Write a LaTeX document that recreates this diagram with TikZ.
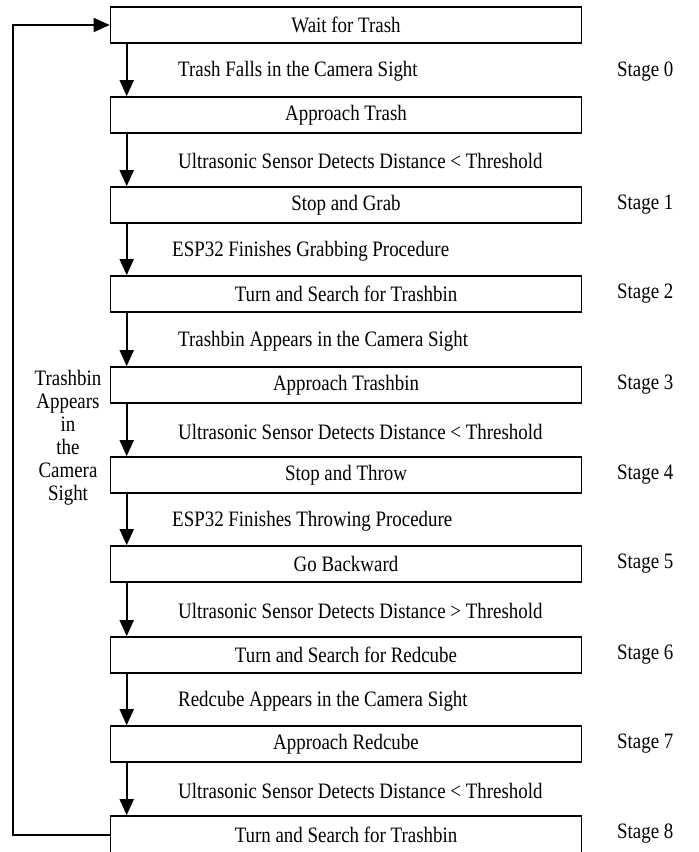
\documentclass[tikz,border=0pt]{standalone}
\usepackage{fontspec}
\setmainfont{Liberation Serif}[FakeStretch=0.86]
\usepackage{tikz}
\usetikzlibrary{arrows.meta}
\tikzset{stagebox/.style={draw, line width=1.6pt, minimum width=471pt, minimum height=36pt, inner sep=0pt},
    flow/.style={line width=1.6pt, -{Triangle[width=14pt,length=16pt]}},
    cond/.style={anchor=west, inner sep=0pt},
    stagelbl/.style={anchor=west, inner sep=0pt}}

\begin{document}
\begin{tikzpicture}[x=1pt, y=-1pt, font=\fontsize{22}{23}\selectfont]
    \clip (0,0) rectangle (699,852);
    \fill[white] (0,0) rectangle (699,852);

    \node[stagebox] (wait) at (346, 25) {Wait for Trash};
    \node[stagebox] (appTrash) at (346, 115) {Approach Trash};
    \node[stagebox] (grab) at (346, 205) {Stop and Grab};
    \node[stagebox] (turnBin) at (346, 294) {Turn and Search for Trashbin};
    \node[stagebox] (appBin) at (346, 385) {Approach Trashbin};
    \node[stagebox] (throw) at (346, 475) {Stop and Throw};
    \node[stagebox] (goBack) at (346, 564) {Go Backward};
    \node[stagebox] (turnCube) at (346, 655) {Turn and Search for Redcube};
    \node[stagebox] (appCube) at (346, 744) {Approach Redcube};
    \node[stagebox, minimum height=38pt] (turnBinB) at (346, 835) {Turn and Search for Trashbin};

    \draw[flow] ([xshift=17pt]wait.south west) -- ([xshift=17pt]appTrash.north west);
    \draw[flow] ([xshift=17pt]appTrash.south west) -- ([xshift=17pt]grab.north west);
    \draw[flow] ([xshift=17pt]grab.south west) -- ([xshift=17pt]turnBin.north west);
    \draw[flow] ([xshift=17pt]turnBin.south west) -- ([xshift=17pt]appBin.north west);
    \draw[flow] ([xshift=17pt]appBin.south west) -- ([xshift=17pt]throw.north west);
    \draw[flow] ([xshift=17pt]throw.south west) -- ([xshift=17pt]goBack.north west);
    \draw[flow] ([xshift=17pt]goBack.south west) -- ([xshift=17pt]turnCube.north west);
    \draw[flow] ([xshift=17pt]turnCube.south west) -- ([xshift=17pt]appCube.north west);
    \draw[flow] ([xshift=17pt]appCube.south west) -- ([xshift=17pt]turnBinB.north west);

    \node[cond] (c0) at (178, 71) {Trash Falls in the Camera Sight};
    \node[cond] (c1) at (178, 161) {Ultrasonic Sensor Detects Distance < Threshold};
    \node[cond] (c2) at (172, 251) {ESP32 Finishes Grabbing Procedure};
    \node[cond] (c3) at (178, 341) {Trashbin Appears in the Camera Sight};
    \node[cond] (c4) at (178, 432) {Ultrasonic Sensor Detects Distance < Threshold};
    \node[cond] (c5) at (172, 521) {ESP32 Finishes Throwing Procedure};
    \node[cond] (c6) at (178, 611) {Ultrasonic Sensor Detects Distance > Threshold};
    \node[cond] (c7) at (178, 701) {Redcube Appears in the Camera Sight};
    \node[cond] (c8) at (178, 791) {Ultrasonic Sensor Detects Distance < Threshold};

    \node[stagelbl] (s0) at (617, 72) {Stage 0};
    \node[stagelbl] (s1) at (617, 205) {Stage 1};
    \node[stagelbl] (s2) at (617, 294) {Stage 2};
    \node[stagelbl] (s3) at (617, 385) {Stage 3};
    \node[stagelbl] (s4) at (617, 475) {Stage 4};
    \node[stagelbl] (s5) at (617, 564) {Stage 5};
    \node[stagelbl] (s6) at (617, 655) {Stage 6};
    \node[stagelbl] (s7) at (617, 744) {Stage 7};
    \node[stagelbl] (s8) at (617, 834) {Stage 8};

    % return path
    \coordinate (loopX) at (13, 0);
    \draw[flow] (turnBinB.west) -- (turnBinB.west -| loopX) |- (wait.west);
    \node[align=center, inner sep=0pt] (loopLbl) at (68, 438)
        {Trashbin\\Appears\\in\\the\\Camera\\Sight};
\end{tikzpicture}
\end{document}
